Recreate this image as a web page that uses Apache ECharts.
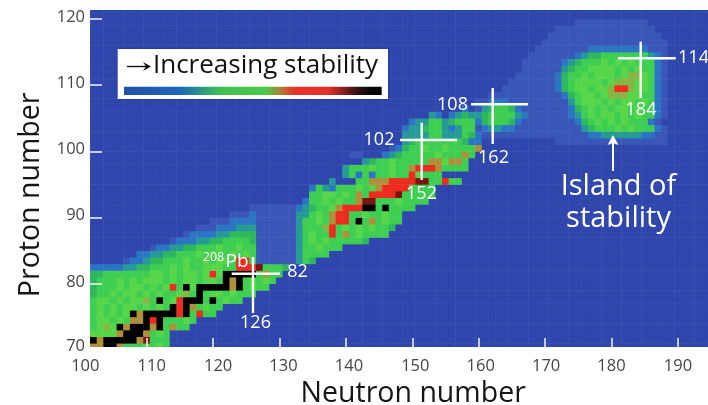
<!DOCTYPE html>
<html><head><meta charset="utf-8">
<script src="https://cdn.jsdelivr.net/npm/echarts@6/dist/echarts.min.js"></script>
<style>html,body{margin:0;padding:0;background:#fff}#c{width:708px;height:405px;filter:blur(0.45px)}</style>
</head><body><div id="c"></div>
<script>
// Each entry: [proton number, first neutron number, stability level per neutron (hex digit, 0-B)]
const lowerChain = [
[70,102,"77AA75556565"],[71,102,"A7AAAAA79555"],[72,102,"66667AAA7565"],
[73,102,"56B6A7AAA7A5755"],[74,102,"56656577A8A55565"],[75,102,"565656A7AAAAA8A5855"],
[76,102,"565656656565A8A75655"],[77,102,"56656566B5A568AAA5A5655"],[78,102,"45565665656556B5A56656555"],
[79,102,"45556566565685A6AAAAA7A5655"],[80,102,"45556565666565665665A7A56565"],[81,102,"44555555566565665686AAAAA5755"],
[82,102,"222223344555656556665588895554"],[83,107,"12234455565565665885111111"],[84,109,"223344555656556565111111"],
[85,111,"1223344555655655111111"],[86,114,"1222334455554111111"],[87,116,"12222334444111111"],
[88,118,"111222333111111"],[89,120,"1112222111111"],[90,123,"1112111111"],[91,126,"1111111"]
];
const midChain = [
[83,133,"354"],[84,133,"35555"],[85,133,"3556555"],[86,133,"35656555554"],[87,133,"35655857565555"],
[88,133,"3555B8565656554".slice(0,15)],[89,133,"355657885A575655"],[90,133,"3356578855655655"],[91,133,"2345567888AA5A5555"],
[92,134,"2556565579955565555"],[93,135,"5566565758888955555"],[94,135,"2532555656788885555"],[95,138,"3"],
[95,142,"5577788889955855"],[96,140,"352525565586555"],[97,140,"3555655655788875555"],[98,143,"3455655555776775"],
[99,141,"11"],[99,146,"23455555655575"],[100,147,"12455655655557"],[101,149,"345555555422"],[102,149,"333355333542"],
[103,149,"23345532355"],[104,150,"23355345553"],[105,153,"3202343"],[106,158,"2"]
];
const blob162 = [
[102,161,"111111"],[103,160,"12332211"],[104,160,"245554211"],[105,160,"345555321"],[106,160,"13455421"],[107,160,"1122211"]
];
const island = [
[119,175,"11111111111"],[118,172,"111111111111111"],[117,171,"11111111111111111"],[116,170,"1111111111111111111"],
[115,169,"11111111222222222111"],[114,168,"111111123445555555321"],
[113,167,"1111112345556565655521"],[112,167,"1111113455666656565521"],
[111,166,"11111124556566656BB6521"],[110,165,"1111111245666656BBB66521"],[109,164,"1111111124566566B88B66521"],
[108,162,"111111111112456656BBB665521"],[107,167,"1111111356665656656521"],
[106,168,"111111245656566565521"],[105,169,"11111235656656565521"],
[104,169,"1111112456565655521"],[103,168,"111111113455565655521"],
[102,167,"1111111111223333332211"],[101,172,"11111111111111111"]
];
const neutronCategories = [];
for (let n = 100; n <= 195; n++) neutronCategories.push(String(n));
const protonCategories = [];
for (let p = 70; p <= 121; p++) protonCategories.push(String(p));
const levelColors = ["#2f46ad","#3a56b8","#2a76c4","#259a96","#2fb75f","#3ecf52","#58d64a","#b08f3a","#ee2b1f","#7a1410","#000000","#86b544"];
const xLabelShift = {100:5,110:5,120:5,130:4,140:3,150:3,160:2,170:1,180:0,190:0};
const crosses = [
  {h:[231.7,280,273.7], v:[253,257,313]},
  {h:[400,457,140], v:[421.7,122.7,180]},
  {h:[471,528,104.3], v:[492.7,88,144]},
  {h:[618,675.7,58.3], v:[640.7,41.7,98.3]}
];
const notes = [
  {t:"82",x:297.5,y:272,s:18},{t:"126",x:255.5,y:323,s:18},{t:"102",x:379,y:140,s:18},{t:"108",x:452.5,y:105,s:18},
  {t:"162",x:493.5,y:158,s:18},{t:"152",x:421.5,y:194,s:18},{t:"114",x:693.5,y:58,s:18},{t:"184",x:641,y:110,s:18},
  {t:"208",x:213.5,y:257.5,s:12.5},{t:"Pb",x:237,y:262,s:19},
  {t:"Island of",x:618.5,y:187,s:29},{t:"stability",x:618.5,y:219,s:29}
];
const FONT = '"Open Sans","Noto Sans",sans-serif';

const grid2 = new Map();
for (let p = 70; p <= 121; p++) for (let n = 102; n <= 195; n++) grid2.set(n + ":" + p, 0);
[lowerChain, midChain, blob162, island].forEach(list => list.forEach(([p, start, s]) => {
  for (let i = 0; i < s.length; i++) grid2.set((start + i) + ":" + p, parseInt(s[i], 16));
}));
const cells = [];
grid2.forEach((v, k) => { const [n, p] = k.split(":"); cells.push([n, p, v]); });

const W = "#fff";
const gfx = [
  {type:"rect",shape:{x:85,y:0,width:623,height:10},style:{fill:"#fff"}},
  {type:"rect",shape:{x:85,y:347,width:623,height:5},style:{fill:"#fff"}},
  {type:"rect",shape:{x:117.7,y:49,width:270.3,height:50},style:{fill:"#fff",shadowBlur:3,shadowColor:"rgba(0,0,30,0.35)"}},
  {type:"rect",shape:{x:124,y:86.7,width:257.7,height:8.3},style:{fill:{type:"linear",x:0,y:0,x2:1,y2:0,colorStops:[
    {offset:0,color:"#2350a8"},{offset:.22,color:"#1f66bd"},{offset:.33,color:"#32a870"},{offset:.38,color:"#42c04e"},
    {offset:.55,color:"#4cc94a"},{offset:.6,color:"#a08a3a"},{offset:.66,color:"#e9332a"},{offset:.79,color:"#e5302a"},
    {offset:.9,color:"#3a1212"},{offset:.95,color:"#0a0a0a"},{offset:1,color:"#000"}]}}},
  {type:"text",style:{x:265.5,y:66,text:"Increasing stability",fill:"#111",font:'26px '+FONT,textAlign:"center",textVerticalAlign:"middle"}},
  {type:"line",shape:{x1:127,y1:66.5,x2:148,y2:66.5},style:{stroke:"#111",lineWidth:1.4}},
  {type:"polygon",shape:{points:[[151,66.5],[143,62],[146,66.5],[143,71]]},style:{fill:"#111"}},
  {type:"line",shape:{x1:613,y1:171,x2:613,y2:140},style:{stroke:W,lineWidth:2}},
  {type:"polygon",shape:{points:[[613,135],[618.5,145],[613,143],[607.5,145]]},style:{fill:W}}
];
crosses.forEach(c => {
  gfx.push({type:"line",shape:{x1:c.h[0],y1:c.h[2],x2:c.h[1],y2:c.h[2]},style:{stroke:W,lineWidth:2.4}});
  gfx.push({type:"line",shape:{x1:c.v[0],y1:c.v[1],x2:c.v[0],y2:c.v[2]},style:{stroke:W,lineWidth:2.4}});
});
notes.forEach(a => gfx.push({type:"text",style:{x:a.x,y:a.y,text:a.t,fill:W,font:a.s+'px '+FONT,textAlign:"center",textVerticalAlign:"middle"}}));
gfx.forEach((g,i) => { g.z = 20; g.z2 = i; });

const xRich = {};
Object.values(xLabelShift).forEach(d => { xRich["s"+d] = {padding:[0,0,0,2*d]}; });

const chart = echarts.init(document.getElementById("c"), null, {renderer:"canvas"});
chart.setOption({
  animation:false,
  backgroundColor:"#fff",
  grid:{left:77,top:5.76,width:637.44,height:344.24,outerBoundsMode:"none",containLabel:false},
  xAxis:{type:"category",data:neutronCategories,offset:-3,z:10,
    axisLine:{show:false},splitLine:{show:false},
    axisTick:{show:true,inside:true,length:9,alignWithLabel:true,interval:(i,v)=>+v%10===0,lineStyle:{color:"#f4f6ff",width:1.5}},
    axisLabel:{show:true,interval:(i,v)=>+v%10===0,margin:10.5,color:"#454545",fontSize:16.5,fontFamily:FONT,
      rich:xRich,formatter:v=>`{s${xLabelShift[v]}|${v}}`},
    name:"Neutron number",nameLocation:"middle",nameGap:32,
    nameTextStyle:{color:"#151515",fontSize:28.5,fontFamily:FONT,padding:[0,0,0,35]}},
  yAxis:{type:"category",data:protonCategories,offset:-13,z:10,
    axisLine:{show:false},splitLine:{show:false},
    axisTick:{show:true,inside:true,length:12,alignWithLabel:false,interval:(i,v)=>+v%10===0,lineStyle:{color:"#f4f6ff",width:1.5}},
    axisLabel:{show:true,interval:(i,v)=>+v%10===0,margin:5,color:"#454545",fontSize:16.5,fontFamily:FONT,
      rich:{y:{padding:[3,0,0,0]}},formatter:v=>v==="70"?v:`{y|${v}}`},
    name:"Proton number",nameLocation:"middle",nameGap:18,
    nameTextStyle:{color:"#151515",fontSize:28.5,fontFamily:FONT,padding:[0,34,0,0]}},
  visualMap:{show:false,type:"piecewise",dimension:2,seriesIndex:0,
    pieces:levelColors.map((c,i)=>({value:i,color:c}))},
  series:[{type:"heatmap",data:cells,progressive:0,emphasis:{disabled:true}}],
  graphic:{elements:gfx}
});
</script></body></html>
